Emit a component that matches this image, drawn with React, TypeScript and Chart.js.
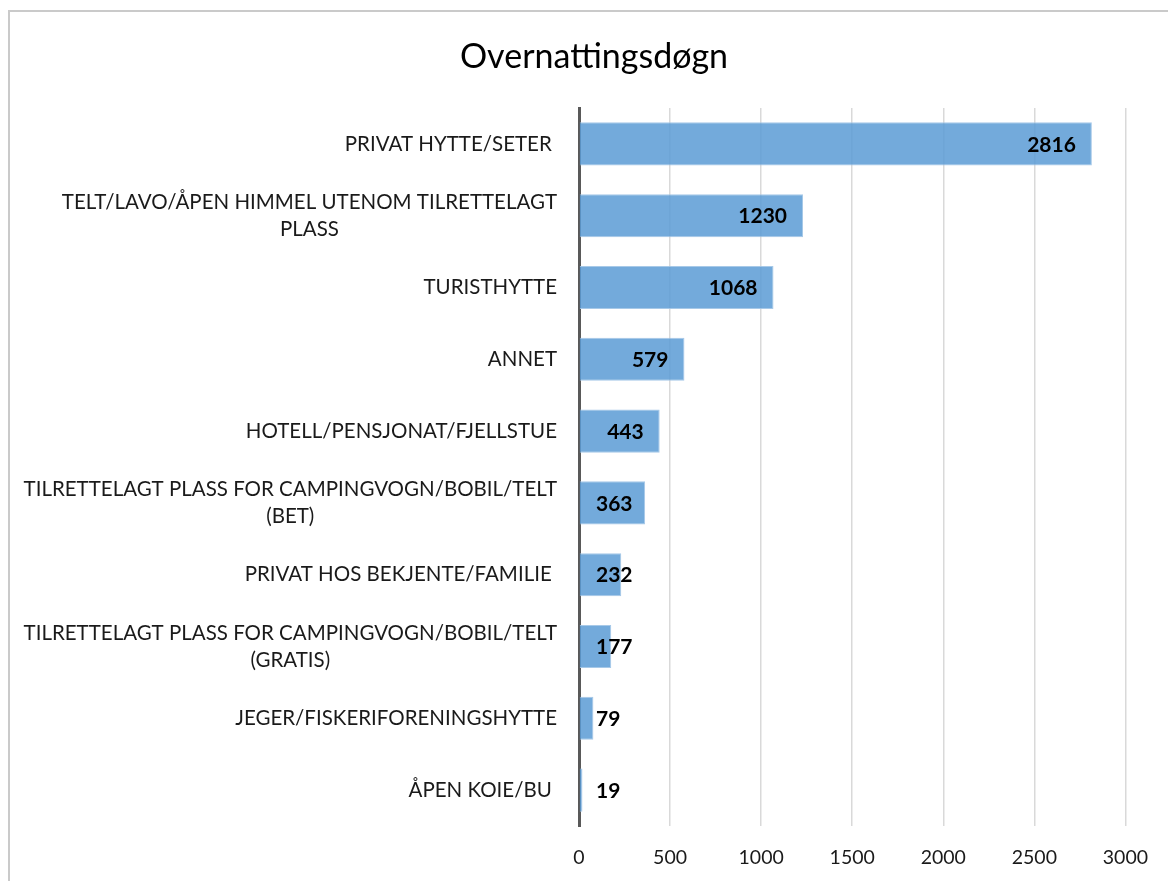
import React, { useEffect, useRef } from "react";
import { Chart, registerables } from "chart.js";

Chart.register(...registerables);

const TITLE = "Overnattingsdøgn";
const categories: string[][] = [
  ["PRIVAT HYTTE/SETER "],
  ["TELT/LAVO/ÅPEN HIMMEL UTENOM TILRETTELAGT", "PLASS"],
  ["TURISTHYTTE"],
  ["ANNET"],
  ["HOTELL/PENSJONAT/FJELLSTUE"],
  ["TILRETTELAGT PLASS FOR CAMPINGVOGN/BOBIL/TELT", "(BET)"],
  ["PRIVAT HOS BEKJENTE/FAMILIE "],
  ["TILRETTELAGT PLASS FOR CAMPINGVOGN/BOBIL/TELT", "(GRATIS)"],
  ["JEGER/FISKERIFORENINGSHYTTE"],
  ["ÅPEN KOIE/BU "],
];
const values: number[] = [2816, 1230, 1068, 579, 443, 363, 232, 177, 79, 19];
const xTicks: number[] = [0, 500, 1000, 1500, 2000, 2500, 3000];

const FONT = "Lato, 'Open Sans', sans-serif";

const categoryLabelsPlugin = {
  id: "categoryLabels",
  afterDraw(chart: any) {
    const ctx = chart.ctx;
    const yScale = chart.scales.y;
    const xScale = chart.scales.x;
    const right = xScale.left - 22;
    const lh = 27;
    ctx.save();
    ctx.font = `20.5px ${FONT}`;
    ctx.fillStyle = "#1a1a1a";
    ctx.textBaseline = "middle";
    ctx.textAlign = "center";
    categories.forEach((lines, i) => {
      const yc = yScale.getPixelForValue(i);
      const maxW = Math.max(...lines.map((l) => ctx.measureText(l).width));
      const cx = right - maxW / 2;
      const y0 = yc - ((lines.length - 1) * lh) / 2;
      lines.forEach((l, j) => {
        ctx.fillText(l, cx, y0 + j * lh);
      });
    });
    ctx.restore();
  },
};

const valueLabelsPlugin = {
  id: "valueLabels",
  afterDatasetsDraw(chart: any) {
    const ctx = chart.ctx;
    const meta = chart.getDatasetMeta(0);
    const zeroX = chart.scales.x.getPixelForValue(0);
    ctx.save();
    ctx.font = `bold 21px ${FONT}`;
    ctx.fillStyle = "#000000";
    ctx.textBaseline = "middle";
    ctx.textAlign = "right";
    meta.data.forEach((bar: any, i: number) => {
      const txt = String(values[i]);
      const w = ctx.measureText(txt).width;
      const xr = Math.max(bar.x - 16, zeroX + 17 + w);
      ctx.fillText(txt, xr, bar.y + 1);
    });
    ctx.restore();
  },
};

export default function App() {
  const ref = useRef<HTMLCanvasElement | null>(null);
  useEffect(() => {
    if (!ref.current) return;
    const chart = new Chart(ref.current, {
      type: "bar",
      data: {
        labels: categories.map((c) => c.join(" ")),
        datasets: [
          {
            data: values,
            backgroundColor: "rgba(91,155,213,0.85)",
            borderColor: "rgba(157,195,230,0.9)",
            borderWidth: 1,
            barPercentage: 0.6,
            categoryPercentage: 1,
          },
        ],
      },
      options: {
        indexAxis: "y",
        responsive: false,
        animation: false,
        layout: { padding: { left: 61, right: 41, top: 0, bottom: 0 } },
        plugins: {
          legend: { display: false },
          tooltip: { enabled: false },
          title: {
            display: true,
            text: TITLE,
            font: { family: FONT, size: 34, weight: "normal" },
            color: "#000000",
            padding: { top: 37, bottom: 30.2 },
          },
        },
        scales: {
          x: {
            min: 0,
            max: 3000,
            afterBuildTicks(scale: any) {
              scale.ticks = xTicks.map((v) => ({ value: v }));
            },
            afterFit(scale: any) {
              scale.height = 55;
            },
            grid: { color: "#d9d9d9", lineWidth: 1.5, drawTicks: false },
            border: { display: false },
            ticks: {
              padding: 20,
              color: "#1a1a1a",
              font: { family: FONT, size: 19.5 },
              callback: (v: any) => String(v),
            },
          },
          y: {
            afterFit(scale: any) {
              scale.width = 518;
            },
            grid: { display: false, drawTicks: false },
            border: { display: true, color: "#595959", width: 3 },
            ticks: { display: false },
          },
        },
      },
      plugins: [categoryLabelsPlugin, valueLabelsPlugin],
    });
    return () => chart.destroy();
  }, []);
  return (
    <div style={{ position: "absolute", left: 0, top: 0, width: 1168, height: 881, background: "#fff", overflow: "hidden" }}>
      <canvas ref={ref} width={1168} height={881} style={{ display: "block" }} />
      <div
        style={{
          position: "absolute",
          left: 8,
          top: 10,
          width: 1200,
          height: 900,
          border: "2px solid #cacaca",
          pointerEvents: "none",
        }}
      />
    </div>
  );
}
